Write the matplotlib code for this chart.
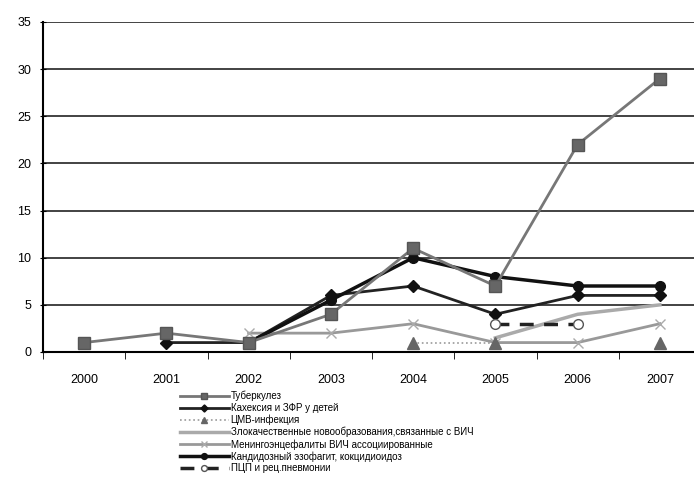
import numpy as np
import matplotlib
matplotlib.use("Agg")
import matplotlib.pyplot as plt

plt.rcParams['font.family'] = ['Liberation Sans', 'DejaVu Sans']

years = ["2000", "2001", "2002", "2003", "2004", "2005", "2006", "2007"]
nan = np.nan
tuberkulez = [1, 2, 1, 4, 11, 7, 22, 29]
kaheksia = [nan, 1, 1, 6, 7, 4, 6, 6]
cmv = [nan, nan, nan, nan, 1, 1, nan, 1]
zlokach = [nan, nan, nan, nan, nan, 1.5, 4, 5]
meningo = [nan, nan, 2, 2, 3, 1, 1, 3]
kandid = [nan, nan, 1, 5.5, 10, 8, 7, 7]
pcp = [nan, nan, nan, nan, nan, 3, 3, nan]

labels = [
    "Туберкулез",
    "Кахексия и ЗФР у детей",
    "ЦМВ-инфекция",
    "Злокачественные новообразования,связанные с ВИЧ",
    "Менингоэнцефалиты ВИЧ ассоциированные",
    "Кандидозный эзофагит, кокцидиоидоз",
    "ПЦП и рец.пневмонии",
]

fig = plt.figure(figsize=(6.94, 4.83), dpi=100)
ax = fig.add_axes([43/694, 1-352/483, 658/694, 330/483])
x = np.arange(len(years))

ax.plot(x, tuberkulez, color='#777777', lw=2, marker='s', ms=8, mfc='#666666', mec='#555555', label=labels[0], zorder=5)
ax.plot(x, kaheksia, color='#222222', lw=2, marker='D', ms=6, mfc='#111111', mec='#111111', label=labels[1], zorder=4)
ax.plot(x, cmv, color='#999999', lw=1.2, ls=':', marker='^', ms=8, mfc='#666666', mec='#666666', label=labels[2], zorder=3)
ax.plot(x, zlokach, color='#aaaaaa', lw=2.5, label=labels[3], zorder=2)
ax.plot(x, meningo, color='#999999', lw=2, marker='x', ms=7, mec='#aaaaaa', label=labels[4], zorder=2)
ax.plot(x, kandid, color='#111111', lw=2.5, marker='o', ms=7, mfc='#111111', mec='#111111', label=labels[5], zorder=4)
ax.plot(x, pcp, color='#222222', lw=2.5, ls=(0, (4, 3)), marker='o', ms=7, mfc='white', mec='#555555', label=labels[6], zorder=4)

ax.set_xlim(-0.5, 7.5)
ax.set_ylim(0, 35)
ax.set_yticks(np.arange(0, 36, 5))
ax.set_xticks(x)
ax.set_xticklabels(years)
ax.set_xticks(np.arange(-0.5, 8, 1), minor=True)
ax.tick_params(axis='x', which='major', length=0, pad=16, labelsize=9)
ax.tick_params(axis='x', which='minor', length=5, direction='out', color='black')
ax.tick_params(axis='y', length=5, direction='inout', labelsize=9, pad=6)
ax.yaxis.grid(True, color='#222222', lw=1.2)
ax.set_axisbelow(True)
for s in ['top', 'right']:
    ax.spines[s].set_visible(False)
ax.spines['left'].set_linewidth(1.5)
ax.spines['bottom'].set_linewidth(1.5)

fig.legend(loc='upper left', bbox_to_anchor=(180/694, 1-391/483), frameon=False,
           fontsize=7, handlelength=5, labelspacing=0.17, handletextpad=0.2,
           borderpad=0, borderaxespad=0, markerscale=0.6)

fig.savefig("out.png", dpi=100)
